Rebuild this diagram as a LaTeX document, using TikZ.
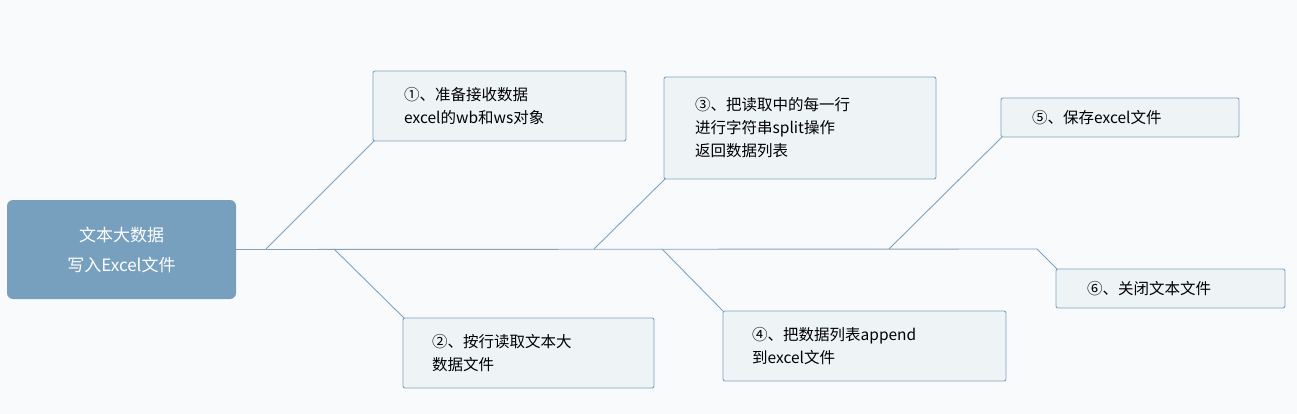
\documentclass[tikz,border=0pt]{standalone}
\usepackage{fontspec}
\setmainfont{Noto Sans CJK SC}
\definecolor{bg}{HTML}{F9FAFB}
\definecolor{ln}{HTML}{7FA3BF}
\definecolor{bx}{HTML}{EEF3F6}
\definecolor{mn}{HTML}{77A0BF}
\begin{document}
\begin{tikzpicture}[x=1pt,y=-1pt,
 box/.style={draw=ln,fill=bx,rounded corners=2pt,line width=0.9pt},
 txt/.style={anchor=west,align=left,font=\fontsize{15.5}{23}\selectfont,inner sep=0},
 con/.style={draw=ln,line width=0.9pt}]
\fill[bg] (0,0) rectangle (1297,414);
\useasboundingbox (0,0) rectangle (1297,414);
\draw[box] (373,71) rectangle (626,141) coordinate (b1);
\node[txt] (t1) at (404,106) {①、准备接收数据\\excel的wb和ws对象};
\draw[box] (403,318) rectangle (654,388);
\node[txt] (t2) at (432,353) {②、按行读取文本大\\数据文件};
\draw[box] (664,77) rectangle (936,179);
\node[txt] (t3) at (695,128) {③、把读取中的每一行\\进行字符串split操作\\返回数据列表};
\draw[box] (723,311) rectangle (1006,381);
\node[txt] (t4) at (752,346) {④、把数据列表append\\到excel文件};
\draw[box] (1001,98) rectangle (1239,137);
\node[txt] (t5) at (1032,118) {⑤、保存excel文件};
\draw[box] (1056,269) rectangle (1285,308);
\node[txt] (t6) at (1087,289) {⑥、关闭文本文件};
\node[fill=mn,rounded corners=6pt,minimum width=229pt,minimum height=99pt,inner sep=0,
 align=center,text=white,font=\fontsize{17}{30}\selectfont] (m) at (121.5,249.5) {文本大数据\\写入Excel文件};
\coordinate (s6) at (1037,249);
\draw[con] (m.east) -- (s6) -- (1057,269);
\draw[con] (266,249) -- (374,141);
\draw[con] (334,249) -- (404,318);
\draw[con] (594,249) -- (665,179);
\draw[con] (662,249) -- (723,311);
\draw[con] (889,249) -- (1002,137);
\end{tikzpicture}
\end{document}
